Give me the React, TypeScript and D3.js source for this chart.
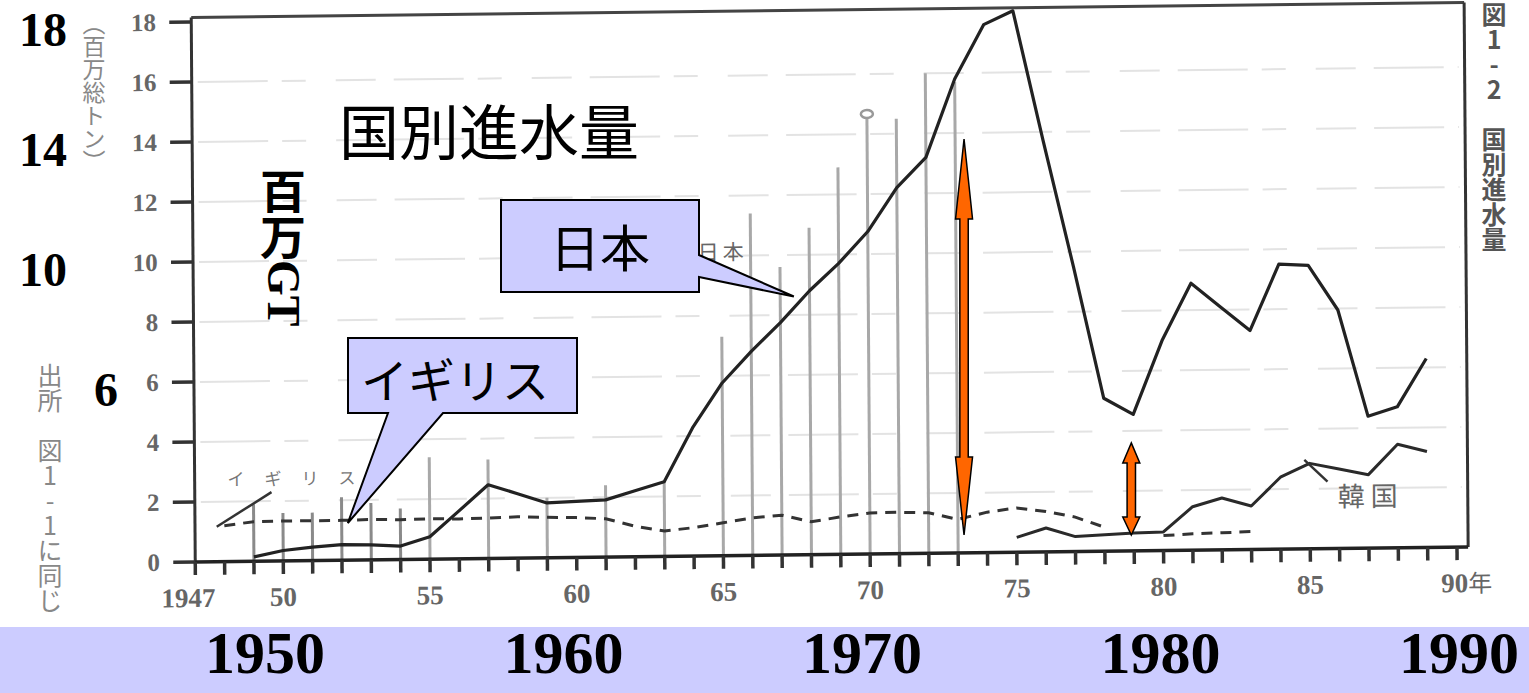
import React, { useEffect } from 'react';
import * as d3 from 'd3';

// ---- data (百万総トン) ----
const japanYears = [1949, 1950, 1951, 1952, 1953, 1954, 1955, 1956, 1957, 1958, 1959, 1960, 1961, 1962, 1963, 1964, 1965, 1966, 1967, 1968, 1969, 1970, 1971, 1972, 1973, 1974, 1975, 1976, 1977, 1978, 1979, 1980, 1981, 1982, 1983, 1984, 1985, 1986, 1987, 1988, 1989];
const japanValues = [0.15, 0.35, 0.45, 0.52, 0.5, 0.45, 0.75, 1.6, 2.46, 2.15, 1.83, 1.87, 1.91, 2.2, 2.49, 4.31, 5.76, 6.8, 7.75, 8.8, 9.7, 10.75, 12.2, 13.2, 15.8, 17.6, 18.05, 13.7, 9.5, 5.1, 4.55, 7.0, 8.9, 8.1, 7.3, 9.5, 9.45, 7.95, 4.4, 4.7, 6.3];

const ukYears = [1948, 1949, 1950, 1951, 1952, 1953, 1954, 1955, 1956, 1957, 1958, 1959, 1960, 1961, 1962, 1963, 1964, 1965, 1966, 1967, 1968, 1969, 1970, 1971, 1972, 1973, 1974, 1975, 1976, 1977, 1978];
const ukValues = [1.2, 1.32, 1.33, 1.33, 1.33, 1.35, 1.33, 1.35, 1.33, 1.35, 1.38, 1.35, 1.33, 1.28, 1.02, 0.85, 0.95, 1.1, 1.25, 1.33, 1.1, 1.25, 1.37, 1.38, 1.35, 1.12, 1.35, 1.48, 1.35, 1.15, 0.8];

const koreaYears = [1975, 1976, 1977, 1978, 1979, 1980, 1981, 1982, 1983, 1984, 1985, 1986, 1987, 1988, 1989];
const koreaValues = [0.5, 0.8, 0.5, 0.55, 0.6, 0.62, 1.45, 1.73, 1.45, 2.4, 2.85, 2.65, 2.45, 3.45, 3.2];

const otherYears = [1980, 1981, 1982, 1983];
const otherValues = [0.5, 0.55, 0.57, 0.6];

const barYears = [1949, 1950, 1951, 1952, 1953, 1954, 1955, 1957, 1959, 1961, 1963, 1965, 1966, 1967, 1968, 1969, 1970, 1971, 1972, 1973];
const barValues = [1.9, 1.6, 1.6, 2.1, 1.9, 1.7, 3.4, 3.3, 2.0, 2.4, 2.5, 7.3, 11.4, 9.6, 10.9, 12.9, 14.6, 14.5, 16.0, 15.7];

const yTicks = [0, 2, 4, 6, 8, 10, 12, 14, 16, 18];
const gridValues = [2, 4, 6, 8, 10, 12, 14, 16];
const tickYears = [1947, 1948, 1949, 1950, 1951, 1952, 1953, 1954, 1955, 1956, 1957, 1958, 1959, 1960, 1961, 1962, 1963, 1964, 1965, 1966, 1967, 1968, 1969, 1970, 1971, 1972, 1973, 1974, 1975, 1976, 1977, 1978, 1979, 1980, 1981, 1982, 1983, 1984, 1985, 1986, 1987, 1988, 1989, 1990];
const xLabelYears = [1950, 1955, 1960, 1965, 1970, 1975, 1980, 1985];
const xLabelTexts = ['50', '55', '60', '65', '70', '75', '80', '85'];

const overlayYLabels = [18, 14, 10, 6];
const bandYears = [1950, 1960, 1970, 1980, 1990];

// arrows (annotation): [year, top value, bottom value]
const arrowSpecs = [
  { year: 1973.2, top: 14.1, bottom: 0.9, head1: 80, head2: 78 },
  { year: 1978.9, top: 3.97, bottom: 0.9, head1: 20, head2: 18 },
];

const W = 1529;
const H = 693;

const xScale = d3.scaleLinear().domain([1955, 1990]).range([430, 1457]);
const yScale = d3.scaleLinear().domain([0, 18]).range([562, 22]);
const bandScale = d3.scaleLinear().domain([1950, 1990]).range([265, 1459]);

const serif = '"Liberation Serif", "Times New Roman", serif';
const cjk = '"Noto Sans CJK JP", "Noto Sans", sans-serif';

function pairs(xs: number[], ys: number[]): [number, number][] {
  return xs.map((x, i) => [x, ys[i]] as [number, number]);
}

const line = d3
  .line<[number, number]>()
  .x((d) => xScale(d[0]))
  .y((d) => yScale(d[1]));

function doubleArrow(x: number, y1: number, y2: number, hw: number, sw: number, h1: number, h2: number) {
  const p = d3.path();
  p.moveTo(x, y1);
  p.lineTo(x + hw, y1 + h1);
  p.lineTo(x + sw, y1 + h1);
  p.lineTo(x + sw, y2 - h2);
  p.lineTo(x + hw, y2 - h2);
  p.lineTo(x, y2);
  p.lineTo(x - hw, y2 - h2);
  p.lineTo(x - sw, y2 - h2);
  p.lineTo(x - sw, y1 + h1);
  p.lineTo(x - hw, y1 + h1);
  p.closePath();
  return p.toString();
}

export default function App() {
  useEffect(() => {
    document.body.style.margin = '0';
  }, []);

  const x0 = xScale(1947);
  const xR = xScale(1990.38);
  const yTop = yScale(18.15);
  const y0 = yScale(0);

  // callout tips on the data
  const jpTip: [number, number] = [xScale(1967.4), yScale(8.85)];
  const ukTip: [number, number] = [xScale(1952.2), yScale(1.3)];

  return (
    <svg width={W} height={H} style={{ position: 'absolute', left: 0, top: 0, background: '#fff' }}>
      <rect x={0} y={0} width={W} height={H} fill="#ffffff" />

      {/* scanned chart, slightly skewed like the scan */}
      <g transform="matrix(1,-0.0118,0.0074,1,-4.16,2.31)">
        {/* faint grid */}
        {gridValues.map((v) => (
          <line key={'g' + v} x1={x0 + 6} x2={xR - 6} y1={yScale(v)} y2={yScale(v)} stroke="#e3e3e3" strokeWidth={2} strokeDasharray="70 14 24 30 40 18" />
        ))}
        {/* vertical gray bars */}
        {barYears.map((yr, i) => (
          <line key={'b' + yr} x1={xScale(yr)} x2={xScale(yr)} y1={y0} y2={yScale(barValues[i])} stroke={yr < 1955 ? '#8a8a8a' : '#a8a8a8'} strokeWidth={3} />
        ))}
        <ellipse cx={xScale(1970)} cy={yScale(14.6) - 2} rx={6} ry={4} fill="#fff" stroke="#999" strokeWidth={2.5} />

        {/* frame / axes */}
        <line x1={x0} x2={xR} y1={yTop} y2={yTop} stroke="#444" strokeWidth={3} />
        <line x1={xR} x2={xR} y1={yTop} y2={y0} stroke="#333" strokeWidth={3} />
        <line x1={x0} x2={x0} y1={yTop} y2={y0} stroke="#333" strokeWidth={3} />
        <line x1={x0} x2={xR} y1={y0} y2={y0} stroke="#222" strokeWidth={3.5} />
        {yTicks.map((v) => (
          <g key={'yt' + v}>
            <line x1={x0 - 22} x2={x0} y1={yScale(v)} y2={yScale(v)} stroke="#333" strokeWidth={3.5} />
            <text x={160} y={yScale(v)} dominantBaseline="central" textAnchor="end" fontFamily={serif} fontWeight="bold" fontSize={25} fill="#666">
              {v}
            </text>
          </g>
        ))}
        {tickYears.map((yr) => (
          <line key={'xt' + yr} x1={xScale(yr)} x2={xScale(yr)} y1={y0} y2={y0 + 13} stroke="#333" strokeWidth={3.5} />
        ))}
        <text x={xScale(1947) - 7} y={607} textAnchor="middle" fontFamily={serif} fontWeight="bold" fontSize={27} fill="#666">
          1947
        </text>
        {xLabelYears.map((yr, i) => (
          <text key={'xl' + yr} x={xScale(yr)} y={607} textAnchor="middle" fontFamily={serif} fontWeight="bold" fontSize={27} fill="#666">
            {xLabelTexts[i]}
          </text>
        ))}
        <text x={xScale(1990) - 16} y={607} fontFamily={serif} fontWeight="bold" fontSize={27} fill="#666">
          90<tspan fontFamily={cjk} fontSize={24} fontWeight="normal">年</tspan>
        </text>

        {/* series */}
        <path d={line(pairs(ukYears, ukValues)) || ''} fill="none" stroke="#333" strokeWidth={3} strokeDasharray="11 8" />
        <path d={line(pairs(otherYears, otherValues)) || ''} fill="none" stroke="#333" strokeWidth={3} strokeDasharray="11 8" />
        <path d={line(pairs(koreaYears, koreaValues)) || ''} fill="none" stroke="#2a2a2a" strokeWidth={3} strokeLinejoin="round" />
        <path d={line(pairs(japanYears, japanValues)) || ''} fill="none" stroke="#222" strokeWidth={3.2} strokeLinejoin="round" />

        {/* small labels of the scan */}
        <line x1={217} y1={527} x2={272} y2={493} stroke="#333" strokeWidth={2.5} />
        <text x={228} y={486} fontFamily={cjk} fontSize={17} fill="#777" letterSpacing={20}>
          イギリス
        </text>
        <text x={700} y={266} fontFamily={cjk} fontSize={21} fill="#666" letterSpacing={4}>
          日本
        </text>
        <line x1={1305} y1={473} x2={1328} y2={495} stroke="#333" strokeWidth={2.5} />
        <text x={1338} y={520} fontFamily={cjk} fontSize={27} fill="#666" letterSpacing={6}>
          韓国
        </text>
      </g>

      {/* side texts of the scanned page */}
      <text x={94} y={12} fontFamily={cjk} fontSize={23} fill="#888" style={{ writingMode: 'vertical-rl' } as any}>
        （百万総トン）
      </text>
      <text x={50} y={363} fontFamily={cjk} fontSize={25} fill="#888" style={{ writingMode: 'vertical-rl', textOrientation: 'upright' } as any}>
        出所　図1-1に同じ
      </text>
      <text x={1494} y={2} fontFamily={cjk} fontSize={25} fontWeight="bold" fill="#555" style={{ writingMode: 'vertical-rl', textOrientation: 'upright' } as any}>
        図1-2　国別進水量
      </text>

      {/* slide overlays */}
      <text x={489} y={128} textAnchor="middle" dominantBaseline="central" fontFamily={cjk} fontSize={60} fill="#000">
        国別進水量
      </text>
      <text x={283} y={168} fontFamily={serif} fontWeight="bold" fontSize={46} fill="#000" style={{ writingMode: 'vertical-rl' } as any}>
        <tspan fontFamily={cjk}>百万</tspan>GT
      </text>
      {overlayYLabels.map((v) => (
        <text key={'oy' + v} x={v === 6 ? 118 : 67} y={yScale(v) + 24} textAnchor="end" fontFamily={serif} fontWeight="bold" fontSize={48} fill="#000">
          {v}
        </text>
      ))}

      {/* callouts */}
      <path d={`M501,200 H699 V255 L${jpTip[0]},${jpTip[1]} L699,277 V292 H501 Z`} fill="#CCCCFF" stroke="#000" strokeWidth={2} />
      <text x={600} y={245} textAnchor="middle" dominantBaseline="central" fontFamily={cjk} fontSize={50} fill="#000">
        日本
      </text>
      <path d={`M348,338 H577 V413 H443 L${ukTip[0]},${ukTip[1]} L388,413 H348 Z`} fill="#CCCCFF" stroke="#000" strokeWidth={2} />
      <text x={455} y={377} textAnchor="middle" dominantBaseline="central" fontFamily={cjk} fontSize={47} fill="#000">
        イギリス
      </text>

      {/* orange arrows */}
      {arrowSpecs.map((a, i) => (
        <path
          key={'ar' + i}
          d={doubleArrow(xScale(a.year), yScale(a.top), yScale(a.bottom), 8.5, 4.2, a.head1, a.head2)}
          fill="#FF6600"
          stroke="#000"
          strokeWidth={1.5}
          strokeLinejoin="miter"
        />
      ))}

      {/* bottom band */}
      <rect x={0} y={627} width={W} height={H - 627} fill="#CCCCFF" />
      {bandYears.map((yr) => (
        <text key={'by' + yr} x={bandScale(yr)} y={673} textAnchor="middle" fontFamily={serif} fontWeight="bold" fontSize={60} fill="#000">
          {yr}
        </text>
      ))}
    </svg>
  );
}
